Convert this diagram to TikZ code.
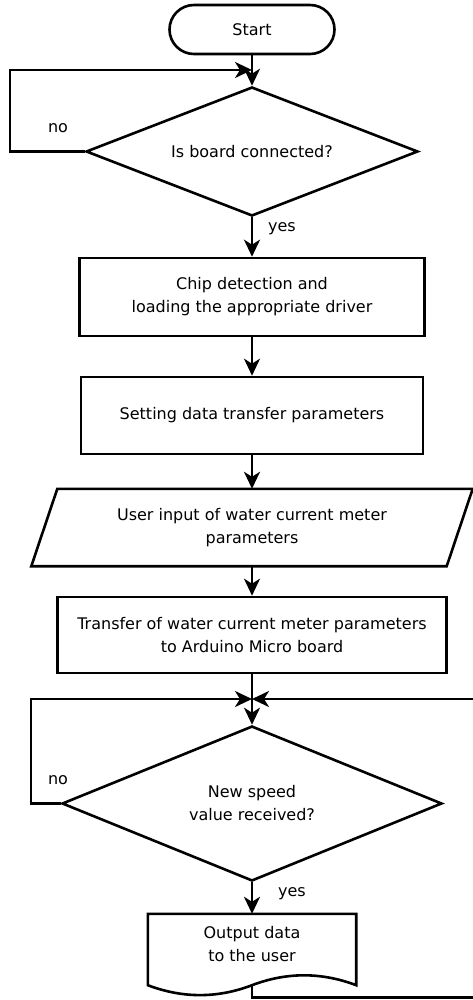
\documentclass[tikz,border=0pt]{standalone}
\usepackage{fontspec}
\setmainfont{DejaVu Sans}
\usetikzlibrary{arrows.meta,calc,shapes.geometric}
\begin{document}
\begin{tikzpicture}[x=1pt,y=-1pt,
  every node/.style={font=\fontsize{16}{23}\selectfont, align=center, text=black},
  ln/.style={line width=2.6pt, draw=black, line join=miter},
  arr/.style={ln, -{Stealth[length=17pt,width=16pt,inset=5pt]}},
  term/.style={ln, rectangle, rounded corners=24.5pt, minimum width=165pt, minimum height=49pt, inner sep=0pt},
  proc/.style={ln, rectangle, inner sep=0pt},
  dec/.style={ln, diamond, aspect=2.5, inner sep=0pt},
  ghost/.style={rectangle, draw=none, inner sep=0pt},
  lbl/.style={inner sep=0pt}
]
\useasboundingbox[fill=white] (0,0) rectangle (472,1000);

% nodes
\node[term] (start) at (252,29.5) {Start};
\node[dec, minimum width=332pt, minimum height=129pt] (d1) at (252,151.5) {Is board connected?};
\node[proc, minimum width=345pt, minimum height=78pt] (p1) at (252,297) {Chip detection and\\loading the appropriate driver};
\node[proc, minimum width=342pt, minimum height=77pt] (p2) at (252,415.5) {Setting data transfer parameters};
\node[ghost, minimum width=415pt, minimum height=77pt] (inp) at (252,527.5) {User input of water current meter\\parameters};
\draw[ln] ($(inp.north west)+(13,0)$) -- ($(inp.north east)+(13,0)$) -- ($(inp.south east)+(-13,0)$) -- ($(inp.south west)+(-13,0)$) -- cycle;
\node[proc, minimum width=389pt, minimum height=76pt] (p3) at (252,635) {Transfer of water current meter parameters\\to Arduino Micro board};
\node[dec, minimum width=380pt, minimum height=155pt] (d2) at (252,803.5) {New speed\\value received?};
\node[ghost, minimum width=208pt, minimum height=60pt] (out) at (252,944) {Output data\\to the user};
\draw[ln] (out.north west) -- (out.north east) -- ($(out.south east)+(0,11)$)
  .. controls ($(out.south)+(69.3,-2.2)$) and ($(out.south)+(34.7,-2.2)$) .. ($(out.south)+(0,11)$)
  .. controls ($(out.south)+(-34.7,24.2)$) and ($(out.south)+(-69.3,24.2)$) .. ($(out.south west)+(0,11)$) -- cycle;

% labels
\node[lbl] (no1) at (58,128) {no};
\node[lbl] (yes1) at (282,229) {yes};
\node[lbl] (no2) at (58,780) {no};
\node[lbl] (yes2) at (292,894) {yes};

% helper coordinates
\coordinate (l1a) at (10,151.5);
\coordinate (l1b) at (10,70);
\coordinate (j1) at (252,70);
\coordinate (j) at (252,699);
\coordinate (l2a) at (31,803.5);
\coordinate (l2b) at (31,699);
\coordinate (wb) at ($(out.south)+(0,11)$);
\coordinate (r1) at (252,997.5);
\coordinate (r2) at (480,997.5);
\coordinate (r3) at (480,699);

% connectors
\draw[arr] (start.south) -- (d1.north);
\draw[arr] (d1.west) -- (l1a) -- (l1b) -- (j1);
\draw[arr] (d1.south) -- (p1.north);
\draw[arr] (p1.south) -- (p2.north);
\draw[arr] (p2.south) -- (inp.north);
\draw[arr] (inp.south) -- (p3.north);
\draw[arr] (p3.south) -- (d2.north);
\draw[arr] (d2.west) -- (l2a) -- (l2b) -- (j);
\draw[arr] (wb) -- (r1) -- (r2) -- (r3) -- (j);
\draw[arr] (d2.south) -- (out.north);
\end{tikzpicture}
\end{document}
